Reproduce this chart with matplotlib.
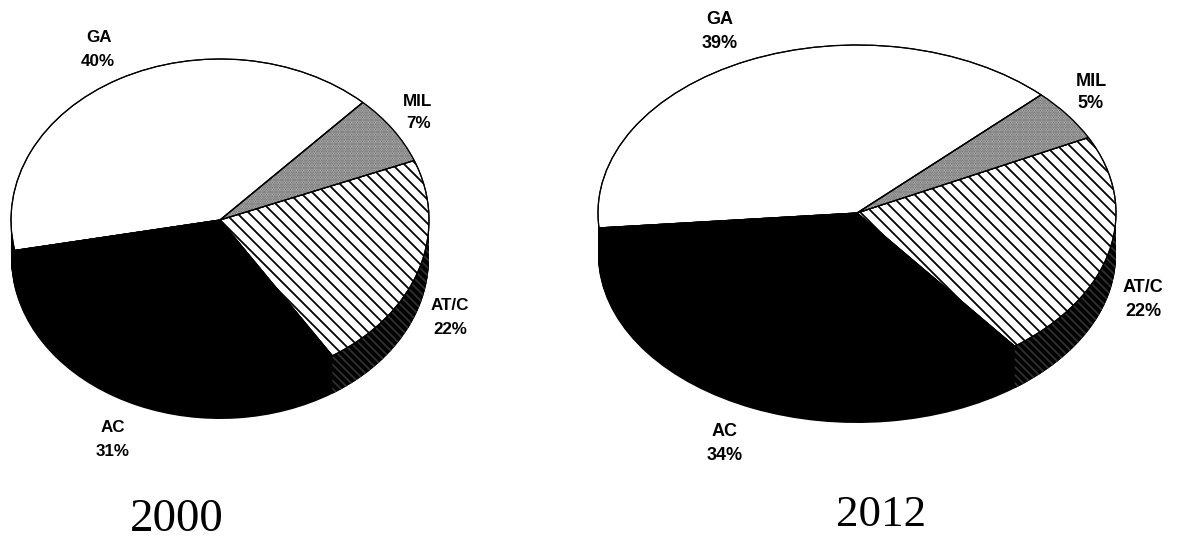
import numpy as np
import matplotlib
matplotlib.use('Agg')
import matplotlib.pyplot as plt

# === DATA ===
segments = ['AT/C', 'MIL', 'GA', 'AC']
shares_2000 = [22, 7, 40, 31]
shares_2012 = [22, 5, 39, 34]
year_2000 = '2000'
year_2012 = '2012'

# === PAGE ===
W, H = 1177, 540
plt.rcParams['font.family'] = ['Liberation Sans', 'DejaVu Sans']
plt.rcParams['hatch.linewidth'] = 1.8
fig = plt.figure(figsize=(W / 72, H / 72), dpi=72, facecolor='white')


def draw_pie(values, cx, cy, a, b, depth, start):
    """Tilted pie: apex at (cx, cy) px, semi axes a, b, rim height depth, all px"""
    ax = fig.add_axes([(cx - a) / W, 1 - (cy + b) / H, 2 * a / W, 2 * b / H])

    # stacked black copies make the side wall
    for t in np.arange(depth, 0, -1.0):
        ax.pie(values, colors=['black'] * 4, center=(0, -t / b), radius=1,
               startangle=start, counterclock=True)

    # AT/C part of the wall has a faint stipple
    th1 = np.radians(np.linspace(start, 0, 60))
    th2 = th1[::-1]
    x = np.concatenate([np.cos(th1), np.cos(th2)])
    y = np.concatenate([np.sin(th1), np.sin(th2) - depth / b])
    ax.fill(x, y, facecolor='black', edgecolor='#303030', hatch='\\\\\\',
            linewidth=0, clip_on=False)

    wedges, _ = ax.pie(values, colors=['white', '#cfcfcf', 'white', 'black'],
                       radius=1, startangle=start, counterclock=True,
                       wedgeprops={'edgecolor': 'black', 'linewidth': 1.2})
    wedges[0].set_hatch('\\\\')
    wedges[1].set_hatch('.....')
    wedges[1].set_edgecolor('#555555')

    # outline again, the MIL hatch colour is lighter than its border
    ax.pie(values, colors=['none'] * 4, radius=1, startangle=start, counterclock=True,
           wedgeprops={'edgecolor': 'black', 'linewidth': 1.2})

    ax.set_aspect('auto')
    ax.set_xlim(-1, 1)
    ax.set_ylim(-1, 1)
    ax.axis('off')


draw_pie(shares_2000, 220, 220, 209, 161, 38, -57.5)
draw_pie(shares_2012, 857, 213, 259, 168, 42, -52.5)

# === TEXT (page overlay in pixels) ===
tx = fig.add_axes([0, 0, 1, 1], facecolor='none')
tx.set_xlim(0, W)
tx.set_ylim(H, 0)
tx.axis('off')


def add_labels(values, name_xy, pct_xy, size):
    for seg, val, p1, p2 in zip(segments, values, name_xy, pct_xy):
        tx.text(p1[0], p1[1], seg, ha='center', va='center', fontsize=size,
                fontweight='bold', color='black')
        tx.text(p2[0], p2[1], f'{val}%', ha='center', va='center', fontsize=size,
                fontweight='bold', color='black')


add_labels(shares_2000,
           [(450, 305), (418, 101), (99, 37), (113, 428)],
           [(450, 329), (419, 124), (98, 62), (113, 452)], 17)
add_labels(shares_2012,
           [(1143, 287), (1091, 81), (720, 19), (725, 432)],
           [(1143, 311), (1091, 103), (720, 43), (725, 456)], 18)

tx.text(177, 520, year_2000, ha='center', va='center', fontsize=47,
        family=['Liberation Serif', 'DejaVu Serif'], color='black')
tx.text(881, 515, year_2012, ha='center', va='center', fontsize=45,
        family=['Liberation Serif', 'DejaVu Serif'], color='black')

plt.savefig('out.png', dpi=72)
